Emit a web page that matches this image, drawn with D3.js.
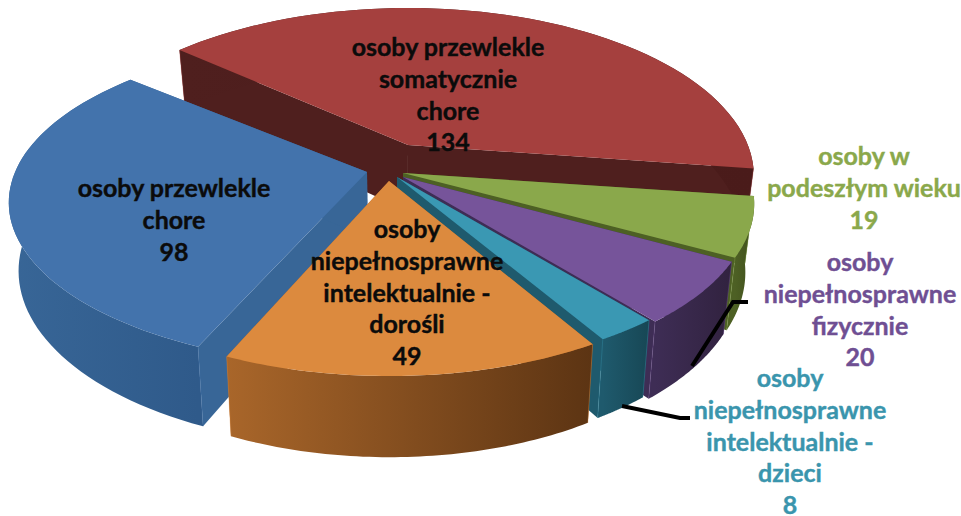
<!DOCTYPE html>
<html><head><meta charset="utf-8">
<script src="https://cdn.jsdelivr.net/npm/d3@7"></script>
<style>html,body{margin:0;padding:0;background:#fff}svg{display:block}text{font-family:Lato,sans-serif;font-weight:700}</style>
</head><body><svg id="c" width="961" height="516"></svg>
<script>
const categories=[
 ["osoby przewlekle","somatycznie","chore"],
 ["osoby w","podeszłym wieku"],
 ["osoby","niepełnosprawne","fizycznie"],
 ["osoby","niepełnosprawne","intelektualnie -","dzieci"],
 ["osoby","niepełnosprawne","intelektualnie -","dorośli"],
 ["osoby przewlekle","chore"]];
const values=[134,19,20,8,49,98];
const topColors=["#a5403e","#8aa84b","#76549a","#3a98b3","#dc8a3e","#4373ac"];
const wallLight=["#4f1f1e","#4d6024","#3e2d55","#1f5a6d","#a9662a","#386697"];
const wallDark=["#4a1b1a","#3f4e1c","#31223f","#174755","#5c3413","#2f5a8a"];
const labelColors=["#0b0b0b","#8aa84b","#6f4f93","#3a95ad","#0b0b0b","#0b0b0b"];
// layout of the exploded slices (not data)
const apexX=[408,403,403,397,389,367], apexY=[145,173,177,177,181,172];
const radiusXK=[0.985,1,0.99,0.99,0.98,1.02], radiusYK=[1,0.98,0.98,0.97,0.975,0.97];
const labelX=[448,864,860,790,407,174], labelY=[47,156,262,378,229,188];
const RX=345,RY=162.6,K=0.187,DEPTH=66,VX=400,SHRINK=0.975,LH=31.8;

const svg=d3.select("#c"), defs=svg.append("defs");
const startDeg=311;
const arcs=d3.pie().sort(null).startAngle(startDeg*Math.PI/180).endAngle((startDeg+360)*Math.PI/180)(values);

function pt(i,a,r,bottom){
  const t=a-Math.PI/2,u=Math.cos(t)*r,v=Math.sin(t)*r;
  const s=1/(1-K*v);
  let x=apexX[i]+RX*radiusXK[i]*u*s,y=apexY[i]+RY*radiusYK[i]*v*s;
  if(bottom){x=VX+(x-VX)*SHRINK;y+=DEPTH*s;}
  return [x,y];
}
function arcPts(i,a0,a1,bottom){
  return d3.range(0,61).map(k=>pt(i,a0+(a1-a0)*k/60,1,bottom));
}
function poly(pts){const p=d3.path();pts.forEach((q,k)=>k?p.lineTo(q[0],q[1]):p.moveTo(q[0],q[1]));p.closePath();return p.toString();}

const order=[0,5,1,2,3,4];
order.forEach(i=>{
  const d=arcs[i],g=svg.append("g");
  const topArc=arcPts(i,d.startAngle,d.endAngle,false),botArc=arcPts(i,d.startAngle,d.endAngle,true);
  const xs=topArc.map(p=>p[0]);
  const grad=defs.append("linearGradient").attr("id","w"+i).attr("gradientUnits","userSpaceOnUse")
    .attr("x1",d3.min(xs)).attr("x2",d3.max(xs)).attr("y1",0).attr("y2",0);
  grad.append("stop").attr("offset",0).attr("stop-color",wallLight[i]);
  grad.append("stop").attr("offset",1).attr("stop-color",wallDark[i]);
  const c=pt(i,0,0,false),cb=pt(i,0,0,true);
  [d.startAngle,d.endAngle].forEach(a=>{
    g.append("path").attr("d",poly([c,pt(i,a,1,false),pt(i,a,1,true),cb])).attr("fill",wallLight[i]);
  });
  g.append("path").attr("d",poly(topArc.concat(botArc.slice().reverse()))).attr("fill","url(#w"+i+")");
  [d.startAngle,d.endAngle].forEach(a=>{
    const p=pt(i,a,1,false),q=pt(i,a,1,true);
    g.append("line").attr("x1",p[0]).attr("y1",p[1]).attr("x2",q[0]).attr("y2",q[1])
      .attr("stroke",topColors[i]).attr("stroke-opacity",0.35).attr("stroke-width",1);
  });
  g.append("path").attr("d",poly([c].concat(topArc))).attr("fill",topColors[i]);
});

// leader lines
const line=d3.line();
svg.append("path").attr("d",line([[692,366],[733,302],[748,302]])).attr("fill","none").attr("stroke","#000").attr("stroke-width",4);
svg.append("path").attr("d",line([[622,406],[680,418],[690,418]])).attr("fill","none").attr("stroke","#000").attr("stroke-width",4);

categories.forEach((lines,i)=>{
  lines.concat([String(values[i])]).forEach((s,k)=>{
    svg.append("text").attr("x",labelX[i]).attr("y",labelY[i]+k*LH).attr("dy","0.36em")
      .attr("text-anchor","middle").attr("font-size",25).attr("fill",labelColors[i])
      .attr("stroke",labelColors[i]).attr("stroke-width",0.4).text(s);
  });
});
</script></body></html>
